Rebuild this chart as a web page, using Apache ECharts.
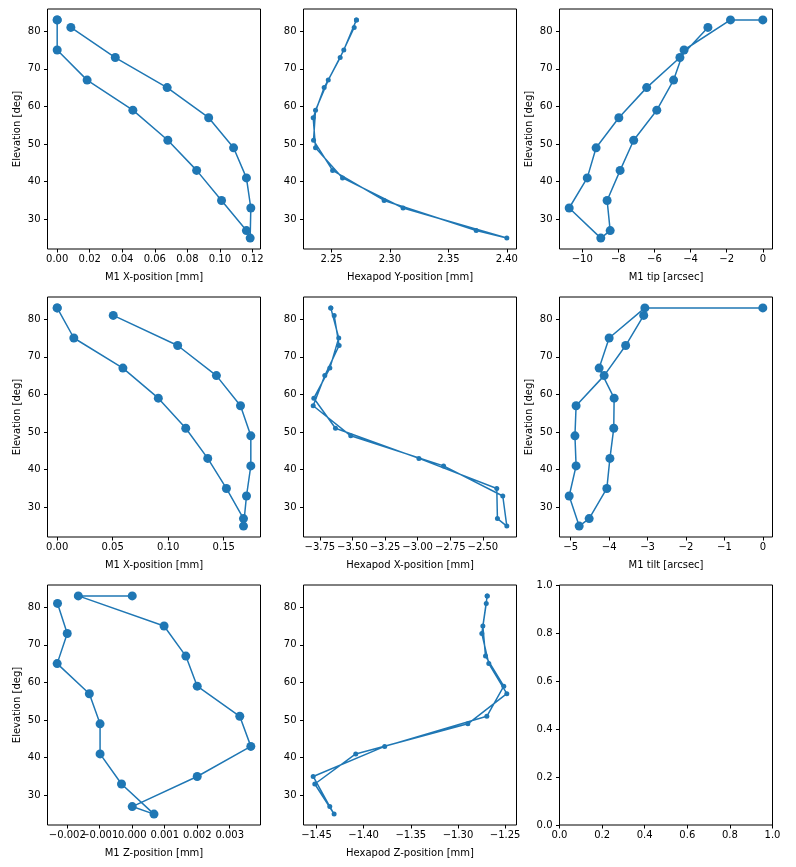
<!DOCTYPE html>
<html>
<head>
<meta charset="utf-8">
<script src="https://cdn.jsdelivr.net/npm/echarts@6/dist/echarts.min.js"></script>
<style>
html,body{margin:0;padding:0;background:#fff;}
#chart{width:796px;height:867px;}
</style>
</head>
<body>
<div id="chart"></div>
<script>
// Elevation sequence (deg): down from 83 to 25, then back up to 81
const elevation = [83, 83, 75, 67, 59, 51, 43, 35, 27, 25, 33, 41, 49, 57, 65, 73, 81];

// Series values (x) for each panel
const m1XPosTop  = [0, 0, 0, 0.0184, 0.0465, 0.068, 0.0857, 0.101, 0.1163, 0.1186, 0.119, 0.1163, 0.1084, 0.0931, 0.0676, 0.0357, 0.0084];
const hexapodY   = [2.2713, 2.2713, 2.2605, 2.2472, 2.2363, 2.2346, 2.2509, 2.295, 2.3738, 2.40, 2.3112, 2.2594, 2.2363, 2.2343, 2.2437, 2.2574, 2.2694];
const m1Tip      = [0, -1.79, -4.36, -4.94, -5.87, -7.15, -7.90, -8.62, -8.45, -8.97, -10.72, -9.72, -9.23, -7.97, -6.43, -4.59, -3.04];
const m1XPosMid  = [0, 0, 0.0150, 0.0592, 0.0911, 0.1158, 0.1356, 0.1524, 0.1678, 0.1678, 0.1705, 0.1744, 0.1744, 0.1651, 0.1434, 0.1085, 0.0505];
const hexapodX   = [-3.666, -3.666, -3.605, -3.673, -3.796, -3.630, -2.990, -2.393, -2.388, -2.316, -2.347, -2.801, -3.513, -3.801, -3.712, -3.602, -3.640];
const m1Tilt     = [0, -3.07, -4.00, -4.26, -3.87, -3.88, -3.98, -4.06, -4.52, -4.78, -5.04, -4.86, -4.89, -4.86, -4.13, -3.57, -3.10];
const m1ZPos     = [0, -0.00166, 0.00098, 0.00165, 0.0020, 0.00331, 0.00365, 0.0020, 0.0, 0.00067, -0.00033, -0.00099, -0.00099, -0.00132, -0.00231, -0.0020, -0.0023];
const hexapodZ   = [-1.269, -1.269, -1.2736, -1.2708, -1.2514, -1.2694, -1.3777, -1.4535, -1.4359, -1.4313, -1.4518, -1.4084, -1.2895, -1.2482, -1.2673, -1.2747, -1.270];

// Tick values
const elevTicks     = [30, 40, 50, 60, 70, 80];
const ticksM1XTop   = [0, 0.02, 0.04, 0.06, 0.08, 0.10, 0.12];
const ticksHexY     = [2.25, 2.30, 2.35, 2.40];
const ticksTip      = [-10, -8, -6, -4, -2, 0];
const ticksM1XMid   = [0, 0.05, 0.10, 0.15];
const ticksHexX     = [-3.75, -3.50, -3.25, -3.00, -2.75, -2.50];
const ticksTilt     = [-5, -4, -3, -2, -1, 0];
const ticksM1Z      = [-0.002, -0.001, 0, 0.001, 0.002, 0.003];
const ticksHexZ     = [-1.45, -1.40, -1.35, -1.30, -1.25];
const ticksUnit     = [0, 0.2, 0.4, 0.6, 0.8, 1.0];

// Axis titles
const xTitles = ['M1 X-position [mm]', 'Hexapod Y-position [mm]', 'M1 tip [arcsec]',
                 'M1 X-position [mm]', 'Hexapod X-position [mm]', 'M1 tilt [arcsec]',
                 'M1 Z-position [mm]', 'Hexapod Z-position [mm]', ''];
const yTitle = 'Elevation [deg]';

const panels = [
  {x: m1XPosTop, ticks: ticksM1XTop, dec: 2, big: true,  ylab: true},
  {x: hexapodY,  ticks: ticksHexY,   dec: 2, big: false, ylab: false},
  {x: m1Tip,     ticks: ticksTip,    dec: 0, big: true,  ylab: true},
  {x: m1XPosMid, ticks: ticksM1XMid, dec: 2, big: true,  ylab: true},
  {x: hexapodX,  ticks: ticksHexX,   dec: 2, big: false, ylab: false},
  {x: m1Tilt,    ticks: ticksTilt,   dec: 0, big: true,  ylab: true},
  {x: m1ZPos,    ticks: ticksM1Z,    dec: 3, big: true,  ylab: true, split: true},
  {x: hexapodZ,  ticks: ticksHexZ,   dec: 2, big: false, ylab: false},
  {x: null,      ticks: ticksUnit,   dec: 1, big: false, ylab: false}
];

const COLOR = '#1f77b4';
const FONT = 'DejaVu Sans';
const FS = 10;
const lefts = [47.5, 303.5, 559.5];
const tops = [9, 297, 585];
const W = 213, H = 240;

function fmt(v, dec) {
  let s = Number(v).toFixed(dec);
  if (parseFloat(s) === 0) s = (0).toFixed(dec);
  return s.replace('-', '\u2212');
}
function padRange(arr) {
  const mn = Math.min.apply(null, arr), mx = Math.max.apply(null, arr);
  const m = (mx - mn) * 0.05;
  return [mn - m, mx + m];
}

const grids = [], xAxes = [], yAxes = [], series = [];
const yRange = padRange(elevation);
const textStyle = {fontFamily: FONT, fontSize: FS, color: '#000'};

function xAxisDef(i, xr, name, tickVals, labelVals, dec, showTicks) {
  return {
    type: 'value', gridIndex: i, min: xr[0], max: xr[1], scale: true, position: 'bottom',
    name: name, nameLocation: 'middle', nameGap: 23,
    nameTextStyle: textStyle,
    axisLine: {show: false, onZero: false}, splitLine: {show: false},
    axisTick: {show: showTicks, inside: false, length: 3.5, lineStyle: {color: '#000', width: 1}, customValues: tickVals},
    axisLabel: Object.assign({show: true, margin: 5, showMinLabel: true, showMaxLabel: true, hideOverlap: false,
                customValues: labelVals, formatter: (v) => fmt(v, dec)}, textStyle)
  };
}

panels.forEach((p, i) => {
  const r = Math.floor(i / 3), c = i % 3;
  grids.push({left: lefts[c], top: tops[r], width: W, height: H, show: true,
              borderColor: '#000', borderWidth: 1, backgroundColor: 'transparent', containLabel: false});
  const xr = p.x ? padRange(p.x) : [0, 1];
  const yr = p.x ? yRange : [0, 1];
  const yt = p.x ? elevTicks : ticksUnit;
  const ydec = p.x ? 0 : 1;
  const xIdx = xAxes.length;
  if (p.split) {
    // overlapping labels in the original: draw alternate labels on two stacked axes
    const evenL = p.ticks.filter((_, k) => k % 2 === 0);
    const oddL = p.ticks.filter((_, k) => k % 2 === 1);
    xAxes.push(xAxisDef(i, xr, xTitles[i], p.ticks, evenL, p.dec, true));
    xAxes.push(xAxisDef(i, xr, '', p.ticks, oddL, p.dec, false));
  } else {
    xAxes.push(xAxisDef(i, xr, xTitles[i], p.ticks, p.ticks, p.dec, true));
  }
  yAxes.push({
    type: 'value', gridIndex: i, min: yr[0], max: yr[1], scale: true, position: 'left',
    name: p.ylab ? yTitle : '', nameLocation: 'middle', nameGap: 25,
    nameTextStyle: textStyle,
    axisLine: {show: false, onZero: false}, splitLine: {show: false},
    axisTick: {show: true, inside: false, length: 3.5, lineStyle: {color: '#000', width: 1}, customValues: yt},
    axisLabel: Object.assign({show: true, margin: 7, showMinLabel: true, showMaxLabel: true, hideOverlap: false,
                customValues: yt, formatter: (v) => fmt(v, ydec)}, textStyle)
  });
  if (p.x) {
    series.push({
      type: 'line', xAxisIndex: xIdx, yAxisIndex: i,
      data: p.x.map((v, k) => [v, elevation[k]]),
      symbol: 'circle', symbolSize: p.big ? 9 : 5, showSymbol: true,
      lineStyle: {color: COLOR, width: 1.5},
      itemStyle: {color: COLOR, borderWidth: 0},
      emphasis: {disabled: true}, silent: true, animation: false, clip: false
    });
  }
});

const chart = echarts.init(document.getElementById('chart'), null, {renderer: 'canvas'});
chart.setOption({
  backgroundColor: '#fff',
  animation: false,
  grid: grids, xAxis: xAxes, yAxis: yAxes, series: series
});
</script>
</body>
</html>
